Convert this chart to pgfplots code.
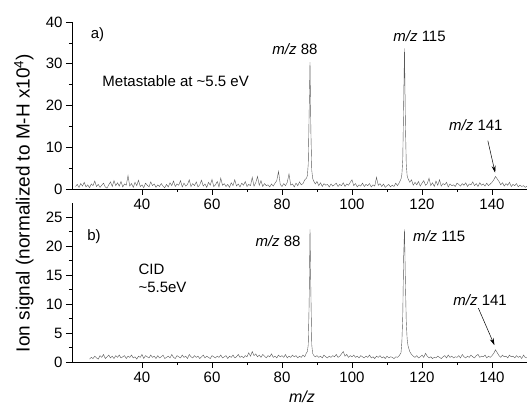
\documentclass[border=0pt]{standalone}
\usepackage{fontspec}
\setmainfont{Liberation Sans}
\usepackage{pgfplots}
\pgfplotsset{compat=1.18}
\usetikzlibrary{arrows.meta}

\newcommand{\tickfont}{\fontsize{15}{18}\selectfont}
\newcommand{\annfont}{\fontsize{15}{18}\selectfont}

\pgfplotsset{
  spec/.style={
    scale only axis,
    width=455pt,
    axis lines*=left,
    xmin=20, xmax=150,
    ymin=0,
    xtick={40,60,...,140},
    minor x tick num=1,
    minor y tick num=1,
    tick align=outside,
    major tick length=6pt,
    minor tick length=3pt,
    tick style={black, line width=0.6pt},
    axis line style={black, line width=0.6pt},
    ticklabel style={font=\tickfont},
    /pgf/number format/assume math mode=true,
    clip=false,
  },
  trace/.style={black!65, line width=0.4pt, mark=none},
}

\begin{document}
\begin{tikzpicture}
\path[use as bounding box] (0,0) rectangle (527pt,412pt);

% ---- panel a) metastable
\begin{axis}[spec, at={(72pt,223pt)}, anchor=south west,
    height=167pt, ymax=40, ytick={0,10,...,40}]
\addplot[trace] coordinates {
(21.0,0.6) (21.5,1.1) (22.0,0.4) (22.5,1.3) (23.0,0.7) (23.5,1.6) (24.0,0.5) (24.5,1.0)
(25.0,0.3) (25.5,1.2) (26.0,0.8) (26.5,1.9) (27.0,0.6) (27.5,1.1) (28.0,0.4) (28.5,0.9)
(29.0,1.4) (29.5,0.5) (30.0,0.2) (30.5,1.0) (31.0,1.7) (31.5,0.6) (32.0,2.0) (32.5,0.8)
(33.0,1.5) (33.5,0.7) (34.0,1.8) (34.5,0.5) (35.0,1.2) (35.5,0.9) (36.0,3.2) (36.5,0.7)
(37.0,1.3) (37.5,0.4) (38.0,1.6) (38.5,0.8) (39.0,2.1) (39.5,0.6) (40.0,1.0) (40.5,0.3)
(41.0,1.4) (41.5,0.9) (42.0,0.5) (42.5,1.7) (43.0,0.8) (43.5,1.2) (44.0,0.4) (44.5,1.0)
(45.0,0.6) (45.5,1.3) (46.0,0.7) (46.5,0.3) (47.0,1.1) (47.5,0.5) (48.0,1.5) (48.5,0.8)
(49.0,1.9) (49.5,0.6) (50.0,1.2) (50.5,0.9) (51.0,2.0) (51.5,0.5) (52.0,1.4) (52.5,0.7)
(53.0,1.1) (53.5,2.2) (54.0,0.6) (54.5,1.3) (55.0,0.8) (55.5,1.7) (56.0,0.5) (56.5,1.0)
(57.0,2.1) (57.5,0.7) (58.0,1.2) (58.5,0.4) (59.0,1.6) (59.5,0.9) (60.0,2.3) (60.5,0.6)
(61.0,1.0) (61.5,1.8) (62.0,0.5) (62.5,2.6) (63.0,0.9) (63.5,1.3) (64.0,0.6) (64.5,1.1)
(65.0,0.4) (65.5,1.5) (66.0,0.8) (66.5,2.2) (67.0,0.7) (67.5,1.2) (68.0,0.5) (68.5,1.4)
(69.0,0.9) (69.5,1.8) (70.0,0.6) (70.5,1.1) (71.0,0.8) (71.5,2.8) (72.0,0.7) (72.5,1.5)
(73.0,3.0) (73.5,0.9) (74.0,2.0) (74.5,0.6) (75.0,1.3) (75.5,0.8) (76.0,1.0) (76.5,0.5)
(77.0,1.2) (77.5,0.7) (78.0,1.4) (78.5,2.0) (79.0,4.2) (79.5,1.1) (80.0,0.6) (80.5,1.3)
(81.0,0.8) (81.5,1.6) (82.0,3.6) (82.5,0.9) (83.0,1.2) (83.5,0.5) (84.0,1.4) (84.5,0.8)
(85.0,1.7) (85.5,1.0) (86.0,1.3) (86.5,2.2) (87.0,2.6) (87.25,3.2) (87.5,6.0) (87.75,18.0)
(88.0,30.4) (88.25,14.0) (88.5,4.5) (88.75,2.6) (89.0,2.0) (89.5,1.2) (90.0,1.8) (90.5,0.8)
(91.0,1.5) (91.5,0.6) (92.0,1.3) (92.5,0.9) (93.0,1.1) (93.5,0.5) (94.0,1.2) (94.5,0.7)
(95.0,1.0) (95.5,1.4) (96.0,0.6) (96.5,1.1) (97.0,0.8) (97.5,1.5) (98.0,0.6) (98.5,1.2)
(99.0,0.9) (99.5,1.6) (100.0,2.2) (100.5,0.8) (101.0,1.3) (101.5,0.5) (102.0,1.0) (102.5,0.7)
(103.0,1.4) (103.5,0.6) (104.0,1.1) (104.5,0.8) (105.0,1.3) (105.5,0.5) (106.0,1.0) (106.5,0.7)
(107.0,2.8) (107.5,0.9) (108.0,1.3) (108.5,0.6) (109.0,1.2) (109.5,0.4) (110.0,0.8) (110.5,1.1)
(111.0,0.5) (111.5,0.9) (112.0,0.6) (112.5,1.4) (113.0,0.8) (113.5,1.5) (114.0,2.4) (114.25,3.5)
(114.5,7.0) (114.75,20.0) (115.0,33.7) (115.25,16.0) (115.5,6.0) (115.75,3.2) (116.0,2.5) (116.5,1.6)
(117.0,2.2) (117.5,0.9) (118.0,1.6) (118.5,1.0) (119.0,1.8) (119.5,0.7) (120.0,1.4) (120.5,2.0)
(121.0,0.9) (121.5,1.3) (122.0,2.6) (122.5,0.8) (123.0,1.5) (123.5,0.6) (124.0,1.9) (124.5,0.9)
(125.0,2.2) (125.5,0.7) (126.0,1.3) (126.5,1.0) (127.0,1.6) (127.5,0.5) (128.0,1.2) (128.5,0.8)
(129.0,1.0) (129.5,0.6) (130.0,1.4) (130.5,1.1) (131.0,0.7) (131.5,1.3) (132.0,0.9) (132.5,1.5)
(133.0,0.6) (133.5,1.2) (134.0,1.0) (134.5,1.7) (135.0,0.8) (135.5,1.3) (136.0,0.6) (136.5,1.5)
(137.0,0.9) (137.5,1.2) (138.0,0.7) (138.5,1.4) (139.0,0.8) (139.5,1.2) (140.0,1.6) (140.5,2.2)
(141.0,3.0) (141.5,2.4) (142.0,1.8) (142.5,1.0) (143.0,1.5) (143.5,0.7) (144.0,1.3) (144.5,0.9)
(145.0,1.6) (145.5,0.6) (146.0,1.1) (146.5,0.8) (147.0,1.3) (147.5,0.5) (148.0,0.9) (148.5,0.6)
(149.0,0.8) (149.5,0.4) (150.0,0.7)
};
\node[font=\annfont] at (axis cs:27.3,36.9) {a)};
\node[font=\annfont, anchor=west] at (axis cs:27.7,25.8) {Metastable at \textasciitilde5.5 eV};
\node[font=\annfont] at (axis cs:83.7,33.6) {\textit{m/z} 88};
\node[font=\annfont] at (axis cs:119.3,36.5) {\textit{m/z} 115};
\node[font=\annfont] at (axis cs:135.4,15.4) {\textit{m/z} 141};
\draw[-{Stealth[length=7pt,width=4pt]}, line width=0.5pt] (axis cs:138.8,11.6) -- (axis cs:140.9,3.9);
\end{axis}

% ---- panel b) CID
\begin{axis}[spec, at={(72pt,50pt)}, anchor=south west,
    height=159.3pt, ymax=27.5, ytick={0,5,...,25}]
\addplot[trace] coordinates {
(25.0,0.5) (25.5,0.8) (26.0,0.6) (26.5,1.0) (27.0,0.7) (27.5,0.5) (28.0,1.1) (28.5,0.8)
(29.0,1.3) (29.5,0.6) (30.0,0.9) (30.5,1.2) (31.0,0.7) (31.5,1.0) (32.0,0.6) (32.5,1.1)
(33.0,0.8) (33.5,1.2) (34.0,0.7) (34.5,0.9) (35.0,1.1) (35.5,0.6) (36.0,1.0) (36.5,0.8)
(37.0,1.2) (37.5,0.7) (38.0,0.9) (38.5,0.5) (39.0,1.0) (39.5,0.8) (40.0,1.3) (40.5,0.6)
(41.0,1.1) (41.5,0.9) (42.0,0.7) (42.5,1.2) (43.0,0.8) (43.5,1.0) (44.0,0.6) (44.5,1.1)
(45.0,0.7) (45.5,0.9) (46.0,1.2) (46.5,0.6) (47.0,0.8) (47.5,1.0) (48.0,0.7) (48.5,1.3)
(49.0,0.8) (49.5,0.6) (50.0,1.1) (50.5,0.9) (51.0,0.7) (51.5,1.2) (52.0,0.8) (52.5,1.0)
(53.0,0.6) (53.5,1.3) (54.0,0.9) (54.5,0.7) (55.0,1.1) (55.5,0.8) (56.0,1.0) (56.5,0.6)
(57.0,0.9) (57.5,1.2) (58.0,0.7) (58.5,1.0) (59.0,0.8) (59.5,0.6) (60.0,1.1) (60.5,0.9)
(61.0,0.7) (61.5,1.0) (62.0,0.8) (62.5,1.2) (63.0,0.7) (63.5,0.9) (64.0,1.1) (64.5,0.6)
(65.0,1.0) (65.5,0.8) (66.0,1.2) (66.5,0.7) (67.0,0.9) (67.5,1.3) (68.0,0.8) (68.5,1.0)
(69.0,0.7) (69.5,1.1) (70.0,0.9) (70.5,1.6) (71.0,1.0) (71.5,1.8) (72.0,1.1) (72.5,1.4)
(73.0,0.9) (73.5,1.2) (74.0,0.8) (74.5,1.3) (75.0,1.0) (75.5,0.7) (76.0,1.1) (76.5,0.9)
(77.0,1.4) (77.5,0.8) (78.0,1.0) (78.5,0.7) (79.0,1.2) (79.5,0.9) (80.0,1.1) (80.5,0.8)
(81.0,1.3) (81.5,0.7) (82.0,1.0) (82.5,0.8) (83.0,1.2) (83.5,0.9) (84.0,1.1) (84.5,0.7)
(85.0,1.0) (85.5,0.8) (86.0,1.2) (86.5,0.9) (87.0,1.6) (87.25,1.8) (87.5,3.0) (87.75,10.0)
(88.0,22.9) (88.25,12.0) (88.5,3.0) (88.75,1.5) (89.0,1.2) (89.5,0.9) (90.0,1.1) (90.5,0.8)
(91.0,1.0) (91.5,0.7) (92.0,1.2) (92.5,0.9) (93.0,0.7) (93.5,1.0) (94.0,0.8) (94.5,1.1)
(95.0,0.9) (95.5,1.3) (96.0,0.8) (96.5,1.0) (97.0,1.4) (97.5,1.8) (98.0,1.0) (98.5,1.3)
(99.0,0.8) (99.5,1.1) (100.0,0.9) (100.5,1.2) (101.0,0.8) (101.5,1.0) (102.0,0.7) (102.5,1.1)
(103.0,0.9) (103.5,0.7) (104.0,1.0) (104.5,0.8) (105.0,1.2) (105.5,0.7) (106.0,0.9) (106.5,0.6)
(107.0,1.0) (107.5,0.8) (108.0,1.1) (108.5,0.7) (109.0,0.9) (109.5,0.6) (110.0,1.0) (110.5,0.7)
(111.0,0.9) (111.5,0.8) (112.0,0.6) (112.5,0.9) (113.0,0.8) (113.5,1.1) (114.0,1.6) (114.25,3.5)
(114.5,8.0) (114.75,18.0) (115.0,22.9) (115.25,14.0) (115.5,7.0) (115.75,4.0) (116.0,2.8) (116.5,1.8)
(117.0,1.3) (117.5,1.0) (118.0,0.8) (118.5,1.1) (119.0,0.7) (119.5,0.9) (120.0,1.2) (120.5,0.8)
(121.0,1.5) (121.5,1.0) (122.0,0.7) (122.5,0.9) (123.0,0.6) (123.5,0.8) (124.0,0.7) (124.5,1.0)
(125.0,0.8) (125.5,0.6) (126.0,0.9) (126.5,1.1) (127.0,0.7) (127.5,1.2) (128.0,0.8) (128.5,1.0)
(129.0,0.7) (129.5,0.9) (130.0,0.8) (130.5,1.1) (131.0,0.7) (131.5,1.3) (132.0,0.9) (132.5,0.7)
(133.0,1.0) (133.5,0.8) (134.0,1.2) (134.5,0.9) (135.0,0.7) (135.5,1.1) (136.0,1.3) (136.5,0.8)
(137.0,1.0) (137.5,0.9) (138.0,1.2) (138.5,0.7) (139.0,1.0) (139.5,0.8) (140.0,1.1) (140.5,1.5)
(141.0,2.1) (141.5,1.6) (142.0,1.1) (142.5,0.8) (143.0,1.2) (143.5,0.9) (144.0,1.0) (144.5,0.7)
(145.0,1.2) (145.5,0.9) (146.0,1.0) (146.5,0.7) (147.0,1.1) (147.5,0.8) (148.0,1.0) (148.5,0.6)
(149.0,1.2) (149.5,0.8) (150.0,0.7)
};
\node[font=\annfont] at (axis cs:26.3,21.7) {b)};
\node[font=\annfont, anchor=west, align=left] at (axis cs:38,14.5) {CID\\\textasciitilde5.5eV};
\node[font=\annfont, anchor=east] at (axis cs:86.3,20.8) {\textit{m/z} 88};
\node[font=\annfont] at (axis cs:124.9,21.7) {\textit{m/z} 115};
\node[font=\annfont] at (axis cs:136.6,10.6) {\textit{m/z} 141};
\draw[-{Stealth[length=7pt,width=4pt]}, line width=0.5pt] (axis cs:136.1,9.3) -- (axis cs:140.7,2.9);
\end{axis}

% shared labels
\node[rotate=90, font=\fontsize{19}{22}\selectfont] at (24pt,209pt)
  {Ion signal (normalized to M-H x10\textsuperscript{4})};
\node[font=\fontsize{16}{19}\selectfont\itshape] at (302pt,15pt) {m/z};
\end{tikzpicture}
\end{document}
